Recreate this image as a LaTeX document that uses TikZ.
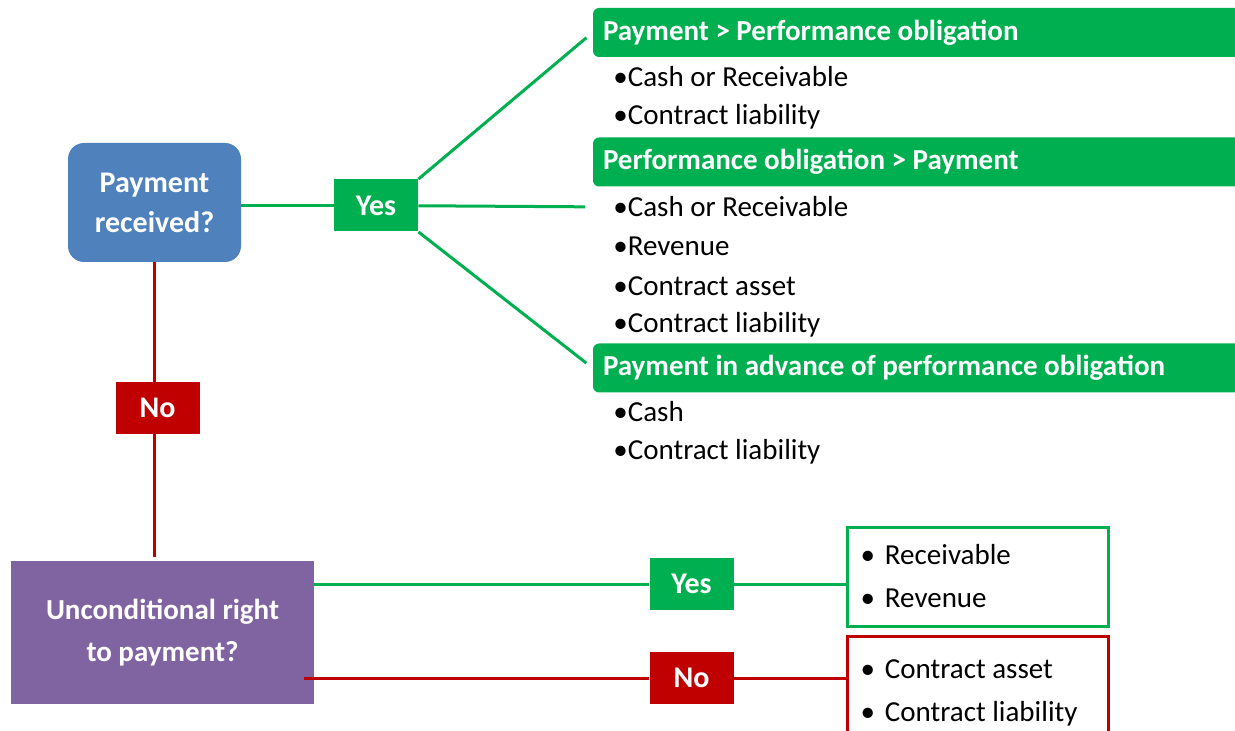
\documentclass[tikz,border=0pt]{standalone}
\usepackage{fontspec}
\setmainfont{Carlito}
\definecolor{okgreen}{HTML}{00B050}
\definecolor{nored}{HTML}{C00000}
\definecolor{qblue}{HTML}{4F81BD}
\definecolor{qpurple}{HTML}{8064A2}

\begin{document}
\begin{tikzpicture}[x=0.5pt,y=-0.5pt,
    question/.style={fill=#1,text=white,font=\bfseries\fontsize{15}{20}\selectfont,align=flush center},
    tag/.style={fill=#1,text=white,font=\bfseries\fontsize{15}{17}\selectfont,minimum width=42pt,minimum height=26pt},
    header/.style={fill=okgreen,text=white,font=\bfseries\fontsize{14.5}{17}\selectfont,rounded corners=3pt,minimum height=24.5pt,text width=316pt,inner xsep=5pt,align=flush left},
    item/.style={anchor=west,inner sep=0pt,font=\fontsize{14.5}{17}\selectfont},
    outbox/.style={draw=#1,line width=1.5pt,text width=117pt,inner xsep=6pt,align=flush left,font=\fontsize{14.5}{21.5}\selectfont},
    link/.style={draw=#1,line width=1.5pt}]
  \useasboundingbox (0,0) rectangle (1235,731);

  % questions
  \node[question=qblue,rounded corners=8pt,minimum width=86.5pt,minimum height=59.5pt] (pay) at (154.5,202.5) {Payment\\received?};
  \node[question=qpurple,minimum width=151.5pt,minimum height=71.5pt,font=\bfseries\fontsize{14.5}{21}\selectfont] (right) at (162.5,632.5) {Unconditional right\\to payment?};

  % yes / no tags
  \node[tag=okgreen] (yes1) at (376,205.5) {Yes};
  \node[tag=nored] (no1) at (157.5,408) {No};
  \node[tag=okgreen] (yes2) at (691.5,584) {Yes};
  \node[tag=nored] (no2) at (691.5,678) {No};

  % payment received: three cases
  \node[header] (h1) at (919,32.5) {Payment > Performance obligation};
  \node[header] (h2) at (919,162) {Performance obligation > Payment};
  \node[header] (h3) at (919,368) {Payment in advance of performance obligation};
  \foreach \n/\y/\t in {c1/77/Cash or Receivable, l1/117/Contract liability,
      c2/207/Cash or Receivable, r2/246/Revenue, a2/286/Contract asset, l2/325/Contract liability,
      c3/412/Cash, l3/452/Contract liability}
    \node[item] (\n) at (613,\y) {•\t};

  % unconditional right: outcomes
  \node[outbox=okgreen,minimum width=130.5pt,minimum height=49.5pt] (recv) at (977.5,576.5) {•\hspace{5pt}Receivable\\•\hspace{5pt}Revenue};
  \node[outbox=nored,minimum width=130.5pt,minimum height=57pt] (rest) at (977.5,693) {•\hspace{5pt}Contract asset\\•\hspace{5pt}Contract liability};

  % connectors
  \draw[link=okgreen] (pay.east |- yes1) -- (yes1);
  \draw[link=okgreen,shorten >=4pt] (yes1.north east) -- (h1.west);
  \draw[link=okgreen,shorten >=14pt] (yes1) -- (c2.west);
  \draw[link=okgreen,shorten >=4pt] (yes1.south east) -- (h3.west);
  \draw[link=nored] (pay) -- (pay |- no1.north);
  \draw[link=nored,shorten >=2pt] (pay |- no1.south) -- (pay |- right.north);
  \draw[link=okgreen] (right.east |- yes2) -- (yes2);
  \draw[link=okgreen] (yes2) -- (recv.west |- yes2);
  \draw[link=nored,shorten <=-5pt] (right.east |- no2) -- (no2);
  \draw[link=nored] (no2) -- (rest.west |- no2);
\end{tikzpicture}
\end{document}
